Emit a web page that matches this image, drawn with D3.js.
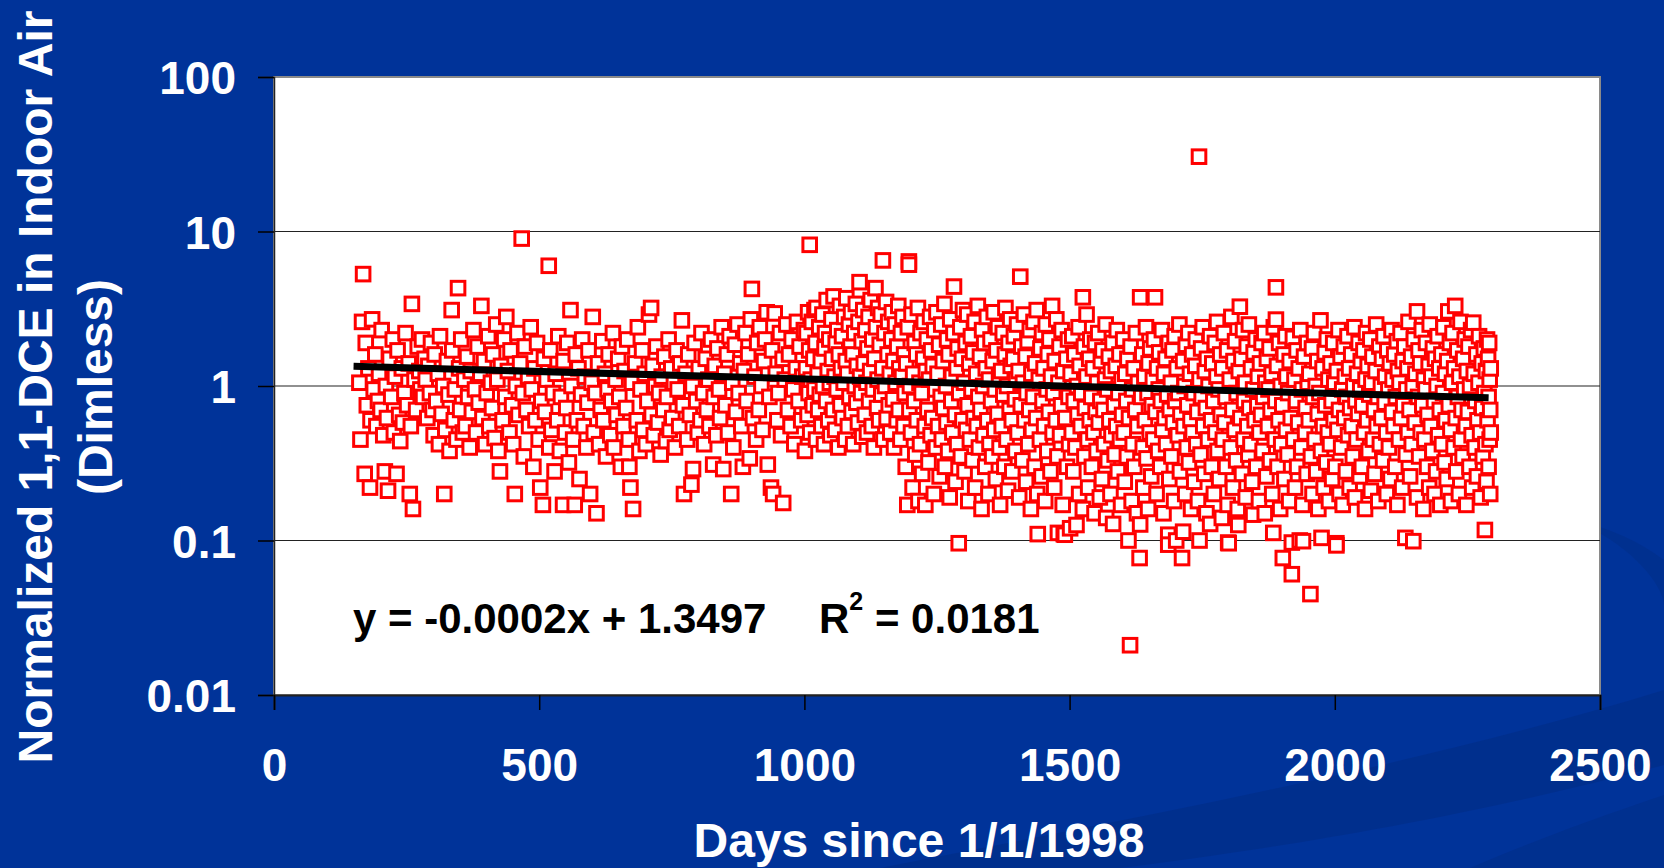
<!DOCTYPE html>
<html><head><meta charset="utf-8">
<script src="https://cdn.jsdelivr.net/npm/d3@7"></script>
<style>html,body{margin:0;padding:0;background:#003399;overflow:hidden}svg{display:block}</style>
</head><body>
<svg id="chart" width="1664" height="868"></svg>
<script>
const xTicks = [0, 500, 1000, 1500, 2000, 2500];
const yTicks = [0.01, 0.1, 1, 10, 100];
const yTickLabels = ["0.01", "0.1", "1", "10", "100"];
const xTitle = "Days since 1/1/1998";
const yTitleLines = ["Normalized 1,1-DCE in Indoor Air", "(Dimless)"];
const equationText = "y = -0.0002x + 1.3497";
const r2Label = ["R", "2", " = 0.0181"];
const trendDays = [150, 2290];
const trendValues = [1.34, 0.84];

// [day, normalized concentration]
const observations = [
[161,1.05],[163,0.45],[166,2.6],[168,5.3],[171,0.27],[173,1.9],[175,0.75],[178,1.3],[181,0.22],[182,0.6],[185,2.7],[188,0.95],
[191,1.6],[193,0.55],[196,0.8],[198,1.2],[201,0.7],[203,2.3],[206,0.48],[209,0.28],[211,1.0],[213,0.62],[215,0.21],[218,1.5],
[221,0.85],[224,2.0],[226,0.5],[228,1.15],[231,0.27],[233,1.7],[236,0.65],[238,0.44],[241,1.3],[243,0.58],[246,0.9],[248,2.2],
[251,0.75],[254,1.4],[256,0.2],[258,0.55],[260,3.4],[262,0.16],[265,1.1],[268,0.7],[271,1.8],[274,1.25],[276,0.95],[279,2.0],
[281,0.85],[284,1.5],[286,1.1],[289,0.62],[291,1.35],[294,0.9],[296,1.9],[299,0.7],[301,0.48],[303,1.6],[306,0.8],[309,1.2],
[311,0.42],[313,2.1],[316,0.66],[319,1.0],[321,0.2],[323,0.52],[326,1.45],[329,0.88],[331,0.38],[335,3.1],[336,1.7],[339,0.6],
[341,0.95],[344,0.45],[347,4.3],[349,1.3],[351,0.7],[353,2.0],[356,0.5],[359,1.1],[361,0.55],[364,1.55],[366,0.85],[369,0.4],
[371,1.25],[373,0.68],[376,2.3],[379,0.95],[381,0.5],[384,1.8],[386,0.78],[389,1.2],[391,3.3],[393,0.62],[396,1.45],[398,0.42],
[401,0.9],[404,2.1],[406,0.55],[409,1.05],[411,0.72],[413,1.6],[416,0.46],[419,2.5],[421,1.1],[423,0.38],[426,0.28],[428,1.35],
[431,0.6],[434,2.0],[436,0.85],[438,2.8],[441,1.25],[444,0.5],[446,1.7],[449,0.75],[451,0.42],[454,0.2],[456,1.0],[459,2.2],
[461,0.65],[464,1.4],[467,9.0],[469,0.9],[471,0.35],[473,1.8],[476,0.7],[479,1.15],[481,0.55],[484,2.4],[486,0.95],[489,0.3],
[491,1.3],[493,0.6],[496,1.9],[499,0.45],[502,0.22],[504,0.8],[507,0.17],[509,1.5],[511,0.68],[514,1.1],[518,6.0],[519,0.4],
[521,1.7],[523,0.52],[526,0.9],[529,0.28],[531,1.2],[534,0.6],[536,2.1],[539,0.38],[541,0.85],[545,0.17],[546,1.45],[549,0.5],
[551,0.72],[553,1.9],[556,0.32],[559,3.1],[561,1.0],[564,0.45],[567,0.17],[569,1.6],[571,0.6],[574,1.3],[576,0.25],[579,0.88],
[581,2.0],[584,0.55],[586,1.15],[589,0.4],[591,0.78],[593,1.7],[596,0.2],[599,1.05],[601,2.8],[603,0.5],[606,0.9],[608,0.15],
[611,1.4],[613,0.42],[616,0.7],[619,1.95],[621,0.6],[624,1.2],[626,0.35],[629,0.95],[631,1.6],[634,0.48],[636,0.8],[639,2.2],
[641,0.4],[644,1.1],[646,0.65],[649,1.5],[651,0.85],[654,0.3],[656,1.8],[659,0.55],[661,1.25],[664,0.72],[666,2.0],[669,0.45],
[670,0.3],[672,0.22],[675,1.05],[677,0.16],[681,1.4],[684,0.6],[686,2.4],[689,0.38],[691,0.95],[694,1.7],[696,0.52],[699,1.2],
[701,0.42],[704,0.8],[707,2.9],[711,3.2],[712,0.65],[714,1.35],[716,0.48],[719,1.0],[721,1.8],[724,0.58],[726,0.9],[729,0.36],
[731,1.15],[734,0.7],[736,1.55],[739,0.44],[741,0.85],[744,2.0],[746,0.52],[749,1.3],[751,0.62],[754,1.05],[756,0.4],[759,1.7],
[761,0.95],[764,0.55],[766,1.4],[769,2.66],[771,0.75],[773,0.2],[776,1.2],[779,0.45],[781,1.6],[784,0.65],[787,0.23],[789,1.0],
[790,0.29],[793,1.9],[796,0.8],[799,0.5],[801,1.3],[804,0.6],[806,2.2],[809,0.9],[811,0.42],[814,1.5],[816,0.7],[819,1.1],
[821,0.55],[824,2.0],[828,0.31],[829,0.85],[831,1.35],[834,0.48],[836,1.75],[839,0.95],[841,0.62],[844,2.4],[847,0.29],[849,1.2],
[851,0.75],[854,1.6],[856,0.5],[859,2.1],[862,0.2],[864,1.05],[866,0.4],[869,1.85],[871,0.68],[874,2.5],[876,0.9],[879,1.4],
[881,0.55],[884,0.3],[886,1.25],[889,2.2],[891,0.8],[894,1.6],[897,0.34],[899,2.7],[901,4.25],[903,0.62],[906,1.15],[909,0.45],
[911,1.9],[914,0.7],[916,2.4],[919,1.0],[921,0.52],[924,1.45],[926,2.0],[929,3.0],[931,0.31],[934,0.85],[937,0.22],[939,1.7],
[941,0.2],[944,2.95],[946,1.2],[949,0.6],[951,0.9],[954,2.2],[956,0.48],[959,1.5],[960,0.175],[963,1.1],[966,2.5],[969,0.7],
[971,1.6],[974,0.55],[976,2.0],[979,0.95],[981,0.42],[984,1.3],[986,2.6],[989,0.8],[991,1.8],[994,0.6],[996,1.15],[999,2.3],
[1001,0.38],[1003,1.3],[1004,2.2],[1006,0.65],[1007,3.0],[1008,0.9],[1009,1.7],
[1010,8.2],[1011,0.5],[1012,1.1],[1014,2.6],[1016,0.75],[1017,1.5],[1019,3.1],[1019,0.95],
[1021,1.9],[1022,0.45],[1023,3.2],[1025,1.2],[1026,0.7],[1028,2.4],[1029,0.88],
[1031,1.45],[1032,0.55],[1034,2.9],[1035,1.0],[1037,0.42],[1038,1.75],[1039,2.2],
[1041,0.8],[1042,3.6],[1044,1.25],[1045,0.6],[1047,2.0],[1048,1.05],[1049,0.48],
[1051,2.7],[1052,1.5],[1054,0.7],[1055,3.8],[1057,1.15],[1058,0.52],[1059,1.9],
[1061,0.95],[1062,2.3],[1064,0.4],[1065,1.6],[1067,3.3],[1068,0.75],[1069,1.3],
[1071,2.1],[1072,0.62],[1074,1.05],[1075,2.8],[1077,0.45],[1078,1.45],[1079,3.7],
[1081,1.2],[1082,0.55],[1084,2.5],[1085,0.85],[1087,1.8],[1088,3.0],[1089,0.68],
[1091,1.6],[1092,0.42],[1094,2.2],[1095,1.0],[1097,3.4],[1098,0.78],[1099,1.35],
[1101,0.58],[1102,2.6],[1104,4.7],[1105,1.15],[1107,0.9],[1108,1.95],[1109,0.47],
[1111,3.1],[1112,1.4],[1114,0.65],[1115,2.3],[1117,1.05],[1118,0.5],[1119,1.75],
[1121,2.8],[1122,0.8],[1124,1.25],[1125,3.6],[1127,0.55],[1128,2.0],[1129,0.95],
[1131,0.4],[1132,1.5],[1134,4.3],[1135,2.4],[1137,0.72],[1138,1.1],[1139,3.2],
[1141,0.6],[1142,1.85],[1144,2.9],[1145,0.88],[1147,1.3],[1148,6.5],[1149,0.45],
[1151,2.2],[1152,1.0],[1154,3.5],[1155,0.62],[1157,1.6],[1158,2.6],[1159,0.75],
[1161,1.2],[1162,0.5],[1164,2.0],[1165,3.0],[1167,0.82],[1168,1.45],[1169,0.4],
[1171,2.5],[1172,1.05],[1174,0.6],[1175,1.8],[1177,3.3],[1178,0.7],[1179,1.3],
[1181,0.45],[1182,2.2],[1184,1.15],[1185,2.8],[1187,0.55],[1188,1.6],[1189,0.9],
[1191,0.3],[1192,1.4],[1194,0.17],[1195,2.4],[1197,6.4],[1197,6.1],[1198,0.7],[1199,1.0],
[1201,0.5],[1202,2.9],[1204,0.22],[1205,1.2],[1207,0.8],[1208,1.9],[1209,0.36],
[1211,1.6],[1212,0.6],[1214,3.2],[1215,0.18],[1217,1.05],[1218,0.42],[1219,2.2],
[1221,0.9],[1222,0.27],[1224,1.5],[1225,2.6],[1227,0.55],[1228,0.17],[1229,1.25],
[1231,2.0],[1232,0.7],[1234,0.32],[1235,1.1],[1237,2.8],[1238,0.48],[1239,1.7],
[1241,0.62],[1242,1.35],[1244,0.2],[1245,2.3],[1247,0.95],[1248,0.4],[1249,3.0],
[1251,1.2],[1252,0.55],[1254,1.85],[1255,0.26],[1257,0.85],[1258,2.5],[1259,0.45],
[1261,1.45],[1262,0.72],[1264,3.4],[1265,0.3],[1267,1.0],[1268,0.58],[1269,2.0],
[1271,0.38],[1272,1.6],[1274,0.19],[1275,2.7],[1277,0.8],[1278,1.15],[1279,0.5],
[1281,2.2],[1282,4.4],[1284,0.65],[1285,0.24],[1287,1.3],[1288,0.42],[1289,1.75],
[1291,0.096],[1292,0.9],[1294,2.4],[1295,0.35],[1297,1.5],[1298,0.6],[1299,3.1],
[1301,1.05],[1302,0.28],[1304,1.9],[1305,0.52],[1307,2.9],[1308,0.75],[1309,0.18],
[1311,1.4],[1312,0.45],[1314,2.1],[1315,0.95],[1317,0.33],[1318,1.65],[1319,0.62],
[1321,2.6],[1322,0.22],[1324,1.2],[1325,0.55],[1327,3.3],[1328,0.85],[1329,0.4],
[1331,1.55],[1332,0.7],[1334,0.16],[1335,2.3],[1337,1.0],[1338,0.48],[1339,1.9],
[1341,0.3],[1342,1.3],[1344,2.8],[1345,0.6],[1347,0.2],[1348,1.1],[1349,0.42],
[1351,2.0],[1352,0.8],[1354,0.35],[1355,1.45],[1357,3.0],[1358,0.52],[1359,0.95],
[1361,0.25],[1362,1.7],[1364,0.66],[1365,2.4],[1367,1.15],[1368,0.4],[1369,0.17],
[1371,1.25],[1372,0.55],[1374,2.2],[1375,0.88],[1377,0.3],[1378,1.6],[1379,3.2],
[1381,0.45],[1382,1.0],[1384,0.21],[1385,1.9],[1387,0.7],[1388,2.7],[1389,1.35],
[1391,0.6],[1392,0.28],[1394,1.5],[1395,2.1],[1397,0.82],[1398,0.38],[1399,1.1],
[1401,2.5],[1402,0.5],[1404,1.25],[1405,0.19],[1407,5.1],[1408,0.75],[1409,1.8],
[1411,0.33],[1412,1.05],[1414,2.9],[1415,0.6],[1417,1.55],[1418,0.24],[1419,0.9],
[1421,1.95],[1422,0.42],[1424,0.7],[1425,2.3],[1427,0.16],[1428,1.2],[1429,0.52],
[1431,0.85],[1432,2.6],[1434,0.3],[1435,1.4],[1437,0.62],[1438,3.1],[1439,0.2],
[1440,0.11],[1442,1.1],[1444,0.45],[1445,1.75],[1447,0.26],[1448,2.2],[1449,0.8],
[1451,1.3],[1452,0.55],[1454,0.18],[1455,2.5],[1457,0.95],[1458,0.38],[1459,1.6],
[1461,0.68],[1462,2.0],[1464,0.28],[1465,1.15],[1467,3.3],[1468,0.5],[1469,0.9],
[1471,0.22],[1472,1.45],[1474,0.6],[1475,2.7],[1477,0.35],[1478,0.112],[1479,1.05],
[1481,1.8],[1482,0.48],[1484,0.75],[1485,2.3],[1487,0.17],[1488,1.25],[1489,0.11],
[1491,0.109],[1492,0.62],[1494,1.5],[1495,0.3],[1497,2.0],[1498,0.85],[1499,0.42],
[1501,0.12],[1502,1.2],[1504,0.5],[1505,2.1],[1507,0.28],[1508,0.8],[1509,1.6],
[1511,0.4],[1513,0.126],[1514,1.0],[1515,0.65],[1517,2.4],[1518,0.2],[1519,1.35],
[1521,0.55],[1522,0.9],[1525,3.75],[1525,0.16],[1527,1.8],[1528,0.35],[1529,0.72],
[1532,2.9],[1532,1.15],[1534,0.45],[1535,0.22],[1537,1.5],[1538,0.6],[1539,2.0],
[1541,0.85],[1542,0.3],[1544,1.3],[1545,0.5],[1547,0.15],[1548,1.9],[1549,0.68],
[1551,0.38],[1552,1.05],[1554,2.2],[1555,0.58],[1557,0.19],[1558,0.8],[1559,1.45],
[1561,0.25],[1562,1.7],[1564,0.7],[1565,0.42],[1567,1.1],[1568,2.5],[1569,0.14],
[1571,0.95],[1572,0.33],[1574,1.55],[1575,0.6],[1577,0.2],[1578,1.25],[1579,0.48],
[1581,1.9],[1582,0.128],[1584,0.75],[1585,0.36],[1587,1.35],[1588,0.55],[1589,2.3],
[1591,0.28],[1592,0.9],[1594,1.6],[1595,0.45],[1597,0.17],[1598,1.1],[1599,0.65],
[1601,2.0],[1602,0.5],[1604,0.24],[1605,1.2],[1607,0.8],[1608,0.35],[1609,1.5],
[1611,0.1],[1612,0.62],[1614,0.021],[1615,1.8],[1617,0.18],[1618,0.95],[1619,0.42],
[1621,1.3],[1622,0.3],[1624,0.7],[1625,2.2],[1627,0.15],[1628,0.55],[1629,1.05],
[1632,0.077],[1633,3.75],[1633,0.127],[1635,0.85],[1637,1.6],[1638,0.4],[1639,0.22],
[1641,1.15],[1642,0.6],[1644,2.4],[1645,0.34],[1647,0.9],[1648,0.16],[1649,1.4],
[1651,0.5],[1652,1.75],[1654,0.26],[1655,0.75],[1657,1.1],[1658,0.45],[1659,2.0],
[1661,3.75],[1662,0.68],[1664,0.2],[1665,1.3],[1667,0.38],[1668,0.95],[1669,1.65],
[1671,0.3],[1672,0.8],[1674,2.3],[1675,0.52],[1677,0.15],[1678,1.2],[1679,0.62],
[1681,1.5],[1682,0.42],[1684,0.88],[1686,0.109],[1686,0.094],[1687,1.9],[1688,0.25],[1689,0.7],
[1691,1.05],[1692,0.35],[1694,1.7],[1695,0.58],[1697,0.18],[1698,2.1],[1699,0.8],
[1701,0.1],[1702,1.3],[1704,0.48],[1705,0.9],[1707,2.5],[1708,0.28],[1709,0.65],
[1712,0.077],[1714,0.114],[1714,1.45],[1715,0.55],[1717,1.0],[1718,0.2],[1719,1.85],
[1721,0.4],[1722,0.75],[1724,2.2],[1725,0.32],[1727,1.2],[1728,0.6],[1729,0.16],
[1731,1.6],[1732,0.5],[1734,0.9],[1735,0.24],[1737,1.35],[1738,2.0],[1739,0.42],
[1741,0.68],[1742,0.18],[1744,30.5],[1745,0.1],[1745,1.1],[1747,0.36],[1748,1.75],[1749,0.85],
[1751,2.4],[1752,0.55],[1754,0.27],[1755,1.25],[1757,0.72],[1758,0.15],[1759,1.5],
[1761,0.45],[1762,1.0],[1765,0.128],[1765,2.1],[1767,0.6],[1768,0.3],[1769,1.4],
[1771,0.8],[1772,0.2],[1774,1.9],[1775,0.5],[1777,1.15],[1778,2.6],[1779,0.38],
[1781,0.95],[1782,0.25],[1784,1.6],[1785,0.65],[1787,0.14],[1788,1.3],[1789,0.45],
[1791,2.2],[1792,0.58],[1794,0.85],[1795,0.3],[1797,1.7],[1798,0.17],[1799,0.097],
[1800,0.096],[1802,1.1],[1804,0.4],[1805,2.8],[1807,0.7],[1808,0.22],[1809,1.45],
[1811,0.52],[1812,1.95],[1814,0.33],[1815,0.9],[1817,0.16],[1818,0.126],[1819,1.25],
[1821,3.26],[1822,0.62],[1824,1.5],[1825,0.27],[1827,2.3],[1828,0.45],[1829,0.8],
[1831,1.05],[1832,0.19],[1834,1.8],[1835,0.55],[1837,0.36],[1838,2.5],[1839,0.72],
[1841,0.42],[1842,1.3],[1844,0.24],[1846,0.147],[1846,0.95],[1847,1.65],[1849,0.6],
[1851,2.0],[1852,0.3],[1854,0.75],[1855,1.15],[1857,0.18],[1858,0.5],[1859,1.4],
[1861,0.65],[1862,1.9],[1864,0.38],[1865,0.85],[1867,2.2],[1868,0.15],[1869,1.05],
[1871,0.26],[1872,1.5],[1874,0.55],[1875,0.95],[1877,1.75],[1878,0.33],[1879,0.7],
[1881,1.2],[1882,0.2],[1884,0.112],[1885,2.4],[1887,0.45],[1888,0.8],[1889,4.35],
[1889,2.69],[1891,1.35],[1892,0.3],[1894,0.6],[1895,1.9],[1897,0.16],[1898,1.0],[1899,0.42],
[1901,0.75],[1902,0.077],[1904,1.6],[1905,0.25],[1907,2.1],[1908,0.52],[1909,1.15],
[1911,0.36],[1912,0.9],[1914,0.18],[1915,1.45],[1917,0.62],[1919,0.0605],[1919,0.097],
[1921,2.05],[1922,0.45],[1924,1.1],[1925,0.22],[1927,0.8],[1928,1.7],[1929,0.3],
[1931,0.58],[1932,1.3],[1934,0.1],[1935,2.3],[1937,0.4],[1938,0.95],[1939,0.17],
[1940,0.099],[1942,1.55],[1944,0.5],[1945,0.72],[1947,0.27],[1948,1.9],[1949,1.05],
[1951,0.6],[1952,1.2],[1954,0.045],[1955,0.35],[1957,1.75],[1958,0.2],[1959,0.85],
[1961,2.2],[1962,0.45],[1964,1.0],[1965,0.28],[1967,1.45],[1968,0.66],[1969,0.16],
[1971,0.9],[1973,2.66],[1974,0.38],[1975,0.104],[1977,1.3],[1978,0.55],[1979,0.22],
[1981,1.65],[1982,0.75],[1984,0.32],[1985,2.0],[1987,0.5],[1988,1.1],[1989,0.18],
[1991,0.42],[1992,1.4],[1994,0.8],[1995,0.25],[1997,1.9],[1998,0.6],[1999,1.05],
[2001,0.3],[2003,0.096],[2003,0.093],[2004,1.25],[2005,0.52],[2007,2.3],[2008,0.7],[2009,0.2],
[2011,1.55],[2012,0.4],[2014,0.95],[2015,0.17],[2017,1.8],[2018,0.62],[2019,1.15],
[2021,0.28],[2022,0.85],[2024,2.1],[2025,0.48],[2027,1.3],[2028,0.22],[2029,0.72],
[2031,1.6],[2032,0.55],[2034,0.35],[2035,1.0],[2037,2.4],[2038,0.19],[2039,0.8],
[2041,0.45],[2042,1.2],[2044,0.66],[2045,1.9],[2047,0.26],[2048,0.95],[2049,1.45],
[2051,0.3],[2052,0.75],[2054,1.7],[2055,0.5],[2057,0.16],[2058,1.1],[2059,2.2],
[2061,0.6],[2062,1.35],[2064,0.38],[2065,0.88],[2067,2.0],[2068,0.21],[2069,1.05],
[2071,1.55],[2072,0.45],[2074,0.7],[2075,0.27],[2077,1.25],[2078,2.5],[2079,0.55],
[2081,0.85],[2082,0.18],[2084,1.8],[2085,0.42],[2087,1.0],[2088,0.62],[2089,1.5],
[2091,0.33],[2092,2.1],[2094,0.78],[2095,1.15],[2097,0.5],[2098,0.2],[2099,1.7],
[2101,0.95],[2102,0.4],[2104,1.4],[2105,0.25],[2107,2.3],[2108,0.68],[2109,1.1],
[2111,0.55],[2112,1.6],[2114,0.3],[2115,0.85],[2117,1.95],[2118,0.17],[2119,1.25],
[2121,0.45],[2122,1.05],[2124,2.2],[2125,0.62],[2127,0.22],[2128,1.45],[2129,0.75],
[2131,1.8],[2133,0.104],[2134,0.36],[2135,0.95],[2137,1.3],[2138,0.5],[2139,2.6],
[2141,0.7],[2142,0.26],[2144,1.55],[2145,0.42],[2147,1.0],[2148,0.099],[2149,2.0],
[2151,0.58],[2152,1.2],[2155,3.04],[2155,0.19],[2157,0.85],[2158,1.7],[2159,0.35],
[2161,1.4],[2162,0.5],[2164,2.3],[2165,0.75],[2167,0.16],[2168,1.1],[2169,0.45],
[2171,0.95],[2172,1.9],[2174,0.3],[2175,0.65],[2177,1.35],[2178,0.22],[2179,2.5],
[2181,0.55],[2182,1.15],[2184,0.38],[2185,1.75],[2187,0.8],[2188,0.2],[2189,1.5],
[2191,0.28],[2192,1.0],[2194,2.1],[2195,0.48],[2197,1.3],[2198,0.7],[2199,0.17],
[2201,1.6],[2202,0.42],[2204,0.9],[2205,2.4],[2207,0.32],[2208,1.2],[2209,0.6],
[2211,0.25],[2212,1.45],[2214,3.04],[2215,0.75],[2217,1.9],[2218,0.52],[2219,0.18],
[2221,1.05],[2222,2.2],[2224,0.4],[2225,1.3],[2227,3.3],[2228,0.62],[2229,0.28],
[2231,1.7],[2232,0.85],[2234,0.2],[2235,1.15],[2237,2.6],[2238,0.45],[2239,0.7],
[2241,0.35],[2242,1.5],[2244,0.95],[2245,2.0],[2247,0.55],[2248,0.17],[2249,1.25],
[2251,0.68],[2252,1.8],[2254,0.3],[2255,1.0],[2257,2.3],[2258,0.48],[2259,0.22],
[2261,2.57],[2262,1.2],[2264,0.4],[2265,0.8],[2267,1.6],[2268,0.26],[2269,0.6],
[2271,1.05],[2272,2.1],[2274,0.5],[2275,0.19],[2277,1.4],[2278,0.72],[2279,0.35],
[2281,1.75],[2282,0.9],[2283,0.117],[2284,0.42],[2285,1.25],[2286,0.24],[2287,2.0],[2288,0.6],
[2289,1.5],[2290,0.3],[2290,0.85],[2291,1.9],[2292,0.45],[2292,1.1],[2293,0.2],[2293,0.7],[2294,1.3],[2294,0.5]
];

const W = 1664, H = 868;
const plot = {left: 274, right: 1600, top: 77, bottom: 695};
const font = "'Liberation Sans', Arial, Helvetica, sans-serif";

const svg = d3.select("#chart");

// background and subtle swooshes
svg.append("rect").attr("width", W).attr("height", H).attr("fill", "#003399");
svg.append("path")
  .attr("d", "M 880 868 C 1150 815, 1420 765, 1664 690 L 1664 765 C 1450 822, 1250 852, 1120 868 Z")
  .attr("fill", "#002d86").attr("opacity", 0.6);
svg.append("path")
  .attr("d", "M 1470 868 C 1560 830, 1620 810, 1664 795 L 1664 868 Z")
  .attr("fill", "#002d86").attr("opacity", 0.55);
svg.append("path")
  .attr("d", "M 1575 520 C 1640 550, 1664 590, 1664 605 L 1664 560 C 1640 542, 1610 528, 1575 520 Z")
  .attr("fill", "#002d86").attr("opacity", 0.5);

const x = d3.scaleLinear().domain([0, 2500]).range([plot.left, plot.right]);
const y = d3.scaleLog().domain([0.01, 100]).range([plot.bottom, plot.top]);

// plot area
svg.append("rect")
  .attr("x", plot.left).attr("y", plot.top)
  .attr("width", plot.right - plot.left).attr("height", plot.bottom - plot.top)
  .attr("fill", "#ffffff").attr("stroke", "#8a8a8a").attr("stroke-width", 2);

// gridlines
svg.append("g").selectAll("line").data(yTicks.filter(v => v > 0.01 && v < 100)).join("line")
  .attr("x1", plot.left).attr("x2", plot.right)
  .attr("y1", d => y(d)).attr("y2", d => y(d))
  .attr("stroke", "#222").attr("stroke-width", 1.2);

// axes
const yAxis = d3.axisLeft(y).tickValues(yTicks).tickFormat((d, i) => yTickLabels[i]).tickSize(16).tickPadding(22);
const gy = svg.append("g").attr("transform", `translate(${plot.left},0)`).call(yAxis);
gy.select(".domain").attr("stroke", "#222").attr("stroke-width", 1.5);
gy.selectAll(".tick line").attr("stroke", "#000").attr("stroke-width", 1.5);
gy.selectAll(".tick text").attr("fill", "#fff").attr("font-family", font)
  .attr("font-weight", "bold").attr("font-size", 46).attr("dy", "0.36em");

const xAxis = d3.axisBottom(x).tickValues(xTicks).tickFormat(d3.format("d")).tickSize(15).tickPadding(38);
const gx = svg.append("g").attr("transform", `translate(0,${plot.bottom})`).call(xAxis);
gx.select(".domain").attr("stroke", "#222").attr("stroke-width", 2);
gx.selectAll(".tick line").attr("stroke", "#000").attr("stroke-width", 1.5);
gx.selectAll(".tick text").attr("fill", "#fff").attr("font-family", font)
  .attr("font-weight", "bold").attr("font-size", 46).attr("dy", "0.71em");

// markers
const m = 13.6;
svg.append("g").selectAll("rect").data(observations).join("rect")
  .attr("x", d => x(d[0]) - m / 2).attr("y", d => y(d[1]) - m / 2)
  .attr("width", m).attr("height", m)
  .attr("fill", "#ffffff").attr("stroke", "#ff0000").attr("stroke-width", 3);

// trend line
const trend = trendDays.map((d, i) => [d, trendValues[i]]);
svg.append("path").datum(trend)
  .attr("d", d3.line().x(d => x(d[0])).y(d => y(d[1])))
  .attr("stroke", "#000").attr("stroke-width", 7).attr("fill", "none");

// equation
const eq = svg.append("text").attr("font-family", font).attr("font-weight", "bold")
  .attr("font-size", 42).attr("fill", "#000").attr("y", 633);
eq.append("tspan").attr("x", 353).text(equationText);
eq.append("tspan").attr("x", 819).text(r2Label[0]);
eq.append("tspan").attr("font-size", 25).attr("dy", -23).text(r2Label[1]);
eq.append("tspan").attr("dy", 23).text(r2Label[2]);

// axis titles
svg.append("text").attr("x", 919).attr("y", 857).attr("text-anchor", "middle")
  .attr("font-family", font).attr("font-weight", "bold").attr("font-size", 48)
  .attr("fill", "#fff").text(xTitle);

const yt = svg.append("g").attr("transform", "translate(0,387) rotate(-90)");
yt.append("text").attr("x", 0).attr("y", 52).attr("text-anchor", "middle")
  .attr("font-family", font).attr("font-weight", "bold").attr("font-size", 48)
  .attr("fill", "#fff").text(yTitleLines[0]);
yt.append("text").attr("x", 0).attr("y", 112).attr("text-anchor", "middle")
  .attr("font-family", font).attr("font-weight", "bold").attr("font-size", 48)
  .attr("fill", "#fff").text(yTitleLines[1]);
</script>
</body></html>
